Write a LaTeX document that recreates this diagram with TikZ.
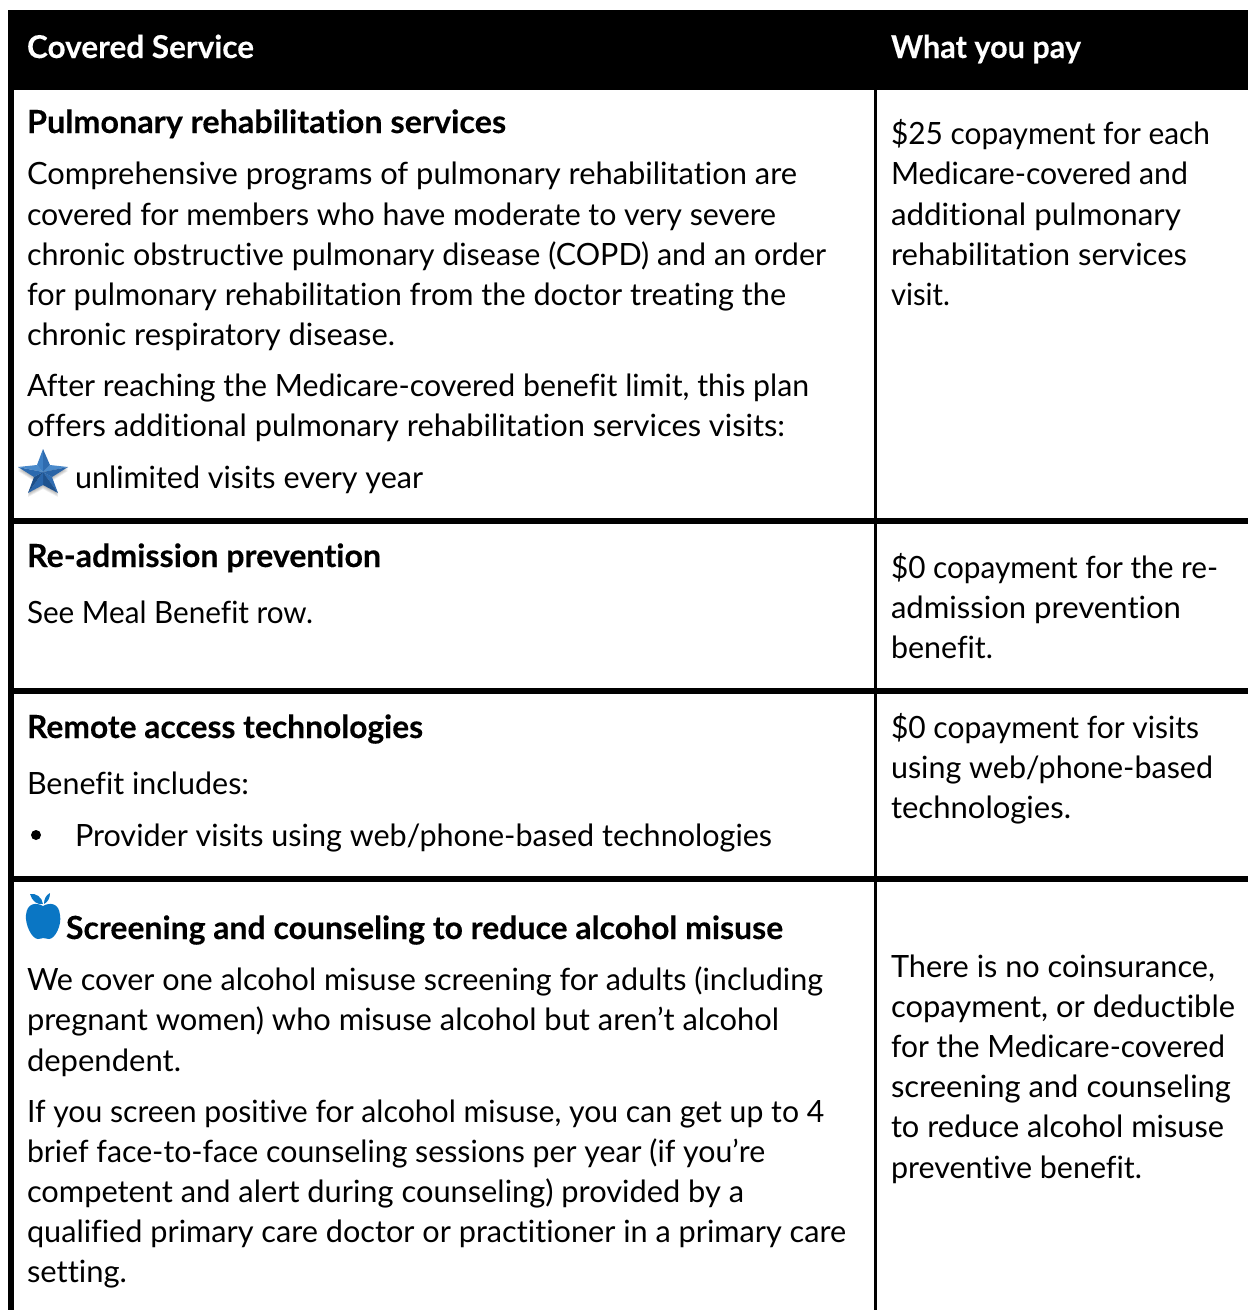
\documentclass[tikz,border=0pt]{standalone}
\usepackage{fontspec}
\usepackage{graphicx}
\setmainfont[Ligatures={NoCommon},BoldFeatures={FakeBold=0.25}]{Lato}
\definecolor{applec}{HTML}{0A76C4}
\tikzset{x=0.75pt,y=-0.75pt,
 txt/.style={anchor=base west,inner sep=0pt,outer sep=0pt,font=\fontsize{23pt}{26pt}\selectfont,text=black},
 bold/.style={txt,font=\fontsize{23.9pt}{26pt}\selectfont\bfseries},
 head/.style={bold,text=white,font=\fontsize{23.6pt}{26pt}\selectfont\bfseries},
 rule/.style={fill=black,draw=none}}
% name, style, x start, y baseline, x end (all in reference pixels), text
\newcommand{\linetext}[6]{\node[#2] (#1) at (#3,#4) {\resizebox{\dimexpr(#5pt-#3pt)*3/4\relax}{\height}{#6}};}
\begin{document}
\begin{tikzpicture}
\useasboundingbox (0,0) rectangle (1248,1310);
\fill[white] (0,0) rectangle (1248,1310);
\fill[rule] (8,10) rectangle (1248,90);
\fill[rule] (8,90) rectangle (14,1310);
\fill[rule] (874,90) rectangle (877,1310);
\fill[rule] (14,518) rectangle (1248,524);
\fill[rule] (14,688) rectangle (1248,694);
\fill[rule] (14,876) rectangle (1248,882);
\linetext{h1}{head}{27}{58}{254}{Covered Service}
\linetext{h2}{head}{891}{58}{1081}{What you pay}
\linetext{a0}{bold}{27}{133}{506}{Pulmonary rehabilitation services}
\linetext{a1}{txt}{27}{184}{797}{Comprehensive programs of pulmonary rehabilitation are}
\linetext{a2}{txt}{27}{225}{776}{covered for members who have moderate to very severe}
\linetext{a3}{txt}{27}{265}{826}{chronic obstructive pulmonary disease (COPD) and an order}
\linetext{a4}{txt}{27}{305}{786}{for pulmonary rehabilitation from the doctor treating the}
\linetext{a5}{txt}{27}{345}{395}{chronic respiratory disease.}
\linetext{a6}{txt}{27}{396}{809}{After reaching the Medicare-covered benefit limit, this plan}
\linetext{a7}{txt}{27}{436}{785}{offers additional pulmonary rehabilitation services visits:}
\linetext{a8}{txt}{75}{488}{423}{unlimited visits every year}
\linetext{p1}{txt}{891}{144}{1210}{\$25 copayment for each}
\linetext{p2}{txt}{891}{184}{1188}{Medicare-covered and}
\linetext{p3}{txt}{891}{225}{1181}{additional pulmonary}
\linetext{p4}{txt}{891}{265}{1187}{rehabilitation services}
\linetext{p5}{txt}{891}{305}{950}{visit.}
\linetext{b0}{bold}{27}{567}{381}{Re-admission prevention}
\linetext{b1}{txt}{27}{623}{313}{See Meal Benefit row.}
\linetext{q1}{txt}{891}{578}{1218}{\$0 copayment for the re-}
\linetext{q2}{txt}{891}{618}{1181}{admission prevention}
\linetext{q3}{txt}{891}{658}{993}{benefit.}
\linetext{c0}{bold}{27}{738}{423}{Remote access technologies}
\linetext{c1}{txt}{27}{794}{249}{Benefit includes:}
\fill (36,835) circle (5);
\linetext{c2}{txt}{75}{846}{772}{Provider visits using web/phone-based technologies}
\linetext{r1}{txt}{891}{738}{1199}{\$0 copayment for visits}
\linetext{r2}{txt}{891}{778}{1213}{using web/phone-based}
\linetext{r3}{txt}{891}{818}{1071}{technologies.}
\linetext{d0}{bold}{66}{939}{783}{Screening and counseling to reduce alcohol misuse}
\linetext{d1}{txt}{27}{990}{823}{We cover one alcohol misuse screening for adults (including}
\linetext{d2}{txt}{27}{1030}{779}{pregnant women) who misuse alcohol but aren’t alcohol}
\linetext{d3}{txt}{27}{1071}{181}{dependent.}
\linetext{d4}{txt}{27}{1122}{824}{If you screen positive for alcohol misuse, you can get up to 4}
\linetext{d5}{txt}{27}{1162}{765}{brief face-to-face counseling sessions per year (if you’re}
\linetext{d6}{txt}{27}{1202}{744}{competent and alert during counseling) provided by a}
\linetext{d7}{txt}{27}{1242}{846}{qualified primary care doctor or practitioner in a primary care}
\linetext{d8}{txt}{27}{1282}{127}{setting.}
\linetext{s1}{txt}{891}{977}{1215}{There is no coinsurance,}
\linetext{s2}{txt}{891}{1017}{1235}{copayment, or deductible}
\linetext{s3}{txt}{891}{1057}{1225}{for the Medicare-covered}
\linetext{s4}{txt}{891}{1097}{1231}{screening and counseling}
\linetext{s5}{txt}{891}{1137}{1224}{to reduce alcohol misuse}
\linetext{s6}{txt}{891}{1178}{1142}{preventive benefit.}
% star shadow
\foreach \s in {1,2,3,4}{
 \fill[black,opacity=0.07,shift={(0,\s)}] (43,449) -- (50,465) -- (68,467) -- (52,477) -- (58,493) -- (43,485) -- (28,493) -- (34,477) -- (18,467) -- (37,465) -- cycle;
}
% star facets
\foreach \a/\b/\c/\d/\e/\f/\h/\g in {
 43/449/37/465/50/465/3D7FC4/2F6CB0,
 68/467/50/465/52/477/4A8ACB/2A64A6,
 58/493/52/477/43/485/2F6DB2/1F538F,
 28/493/43/485/34/477/2A66AB/1C4F8A,
 18/467/34/477/37/465/2B69AE/4A8ACB}{
 \definecolor{fa}{HTML}{\h}
 \definecolor{fb}{HTML}{\g}
 \fill[fa] (\a,\b) -- (\c,\d) -- (43,472) -- cycle;
 \fill[fb] (\a,\b) -- (\e,\f) -- (43,472) -- cycle;
}
% apple
\fill[applec] (43,906) .. controls (36,902) and (27,903) .. (26,915) .. controls (25,925) and (32,939) .. (38,939) .. controls (41,939) and (42,938) .. (43,938) .. controls (45,938) and (47,939) .. (49,939) .. controls (55,939) and (62,925) .. (60,915) .. controls (59,903) and (50,902) .. (43,906) -- cycle;
\fill[applec] (30,894) .. controls (36,893) and (42,897) .. (43,904) .. controls (37,905) and (32,901) .. (30,894) -- cycle;
\fill[applec] (50,893) .. controls (46,895) and (44,899) .. (44,904) .. controls (48,902) and (50,898) .. (50,893) -- cycle;
\end{tikzpicture}
\end{document}
